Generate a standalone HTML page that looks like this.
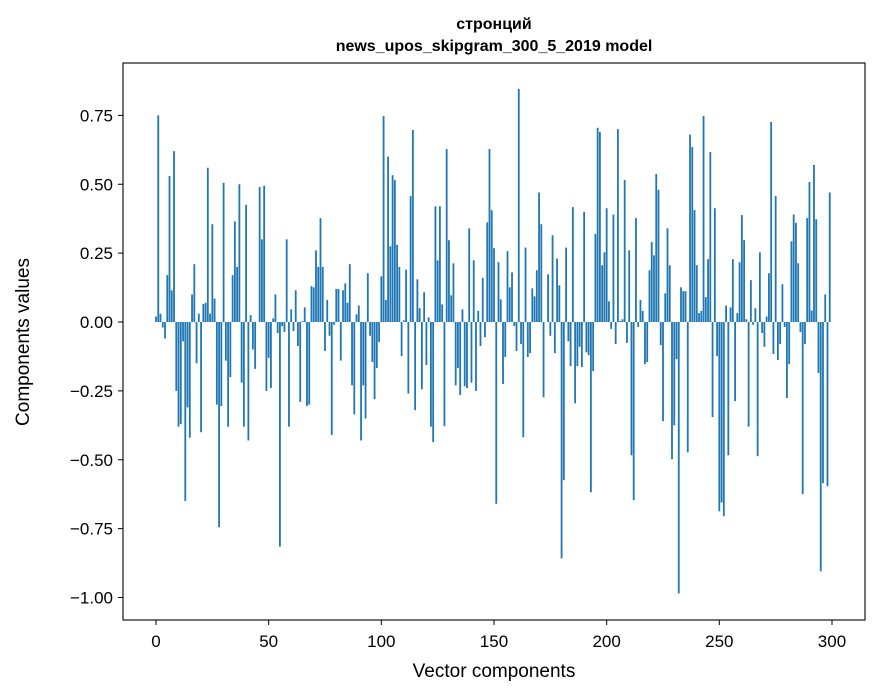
<!DOCTYPE html>
<html><head><meta charset="utf-8"><style>
body{margin:0;background:#fff}
svg{display:block;font-family:"Liberation Sans","DejaVu Sans",sans-serif}
</style></head><body>
<svg id="chart" width="880" height="696" viewBox="0 0 880 696" xmlns="http://www.w3.org/2000/svg">
<rect width="880" height="696" fill="#fff"/>
<text x="494" y="29" text-anchor="middle" font-size="16" font-weight="bold">стронций</text>
<text x="494" y="51" text-anchor="middle" font-size="16" font-weight="bold">news_upos_skipgram_300_5_2019 model</text>
<g id="bars"></g>
<g id="axes"></g>
<rect x="123" y="63" width="742" height="557" fill="none" stroke="#000" stroke-width="1.1"/>
<text x="494" y="677" text-anchor="middle" font-size="19">Vector components</text>
<text transform="translate(29,342) rotate(-90)" text-anchor="middle" font-size="19">Components values</text>
</svg>
<script>
const values = [0.02,0.75,0.03,-0.02,-0.06,0.17,0.53,0.115,0.62,-0.25,
-0.38,-0.37,-0.07,-0.65,-0.31,-0.42,0.10,0.21,-0.15,0.03,
-0.40,0.065,0.07,0.56,0.03,0.355,0.085,-0.30,-0.745,-0.305,
0.505,-0.14,-0.38,-0.2,0.17,0.365,0.2,0.50,-0.22,-0.38,
0.425,-0.43,0.025,-0.10,-0.17,0.0,0.49,0.30,0.495,-0.25,
-0.13,-0.24,0.013,0.10,-0.04,-0.815,-0.015,-0.036,0.30,-0.38,
0.046,-0.033,0.115,-0.087,-0.29,0.004,0.053,-0.305,-0.30,0.13,
0.126,0.26,0.20,0.377,0.20,-0.105,0.08,-0.05,-0.41,-0.01,
0.12,0.12,-0.14,0.115,0.14,0.07,0.21,-0.23,-0.335,0.028,
0.06,-0.43,-0.23,-0.35,0.177,-0.05,-0.145,-0.28,-0.167,-0.073,
0.166,0.748,0.08,0.60,0.275,0.533,0.515,0.28,0.20,-0.124,
0.006,0.19,-0.26,0.457,0.697,-0.32,0.155,0.05,-0.244,0.108,
-0.156,0.017,-0.38,-0.436,0.42,0.224,0.42,0.064,-0.378,0.628,
0.297,0.097,0.213,-0.23,-0.167,-0.265,0.046,-0.233,-0.24,0.34,
-0.22,0.224,-0.25,0.04,-0.087,0.16,-0.055,0.362,0.628,0.406,
0.268,-0.66,0.217,0.082,-0.225,-0.127,0.257,0.126,0.18,-0.015,
-0.105,0.846,-0.08,-0.418,0.27,-0.127,-0.113,0.122,0.093,0.188,
0.47,0.355,-0.273,0.0,0.173,-0.05,0.315,-0.113,0.23,0.133,
-0.858,-0.574,0.27,-0.07,-0.16,0.417,-0.295,-0.16,-0.09,-0.164,
0.40,-0.11,-0.12,-0.618,-0.178,0.32,0.705,0.69,0.206,0.253,
0.413,0.075,-0.025,0.39,-0.08,0.70,0.004,0.01,0.515,-0.076,
0.26,-0.484,-0.647,0.377,-0.018,0.08,0.04,-0.153,-0.145,0.188,
0.29,0.242,0.537,0.48,-0.084,-0.36,0.104,0.34,0.206,-0.498,
-0.375,-0.135,-0.985,0.126,0.112,0.112,-0.473,0.68,0.635,0.406,
0.206,0.032,0.04,0.748,0.09,0.228,0.617,-0.345,0.413,-0.124,
-0.687,-0.655,-0.705,0.06,-0.484,0.053,0.228,-0.287,0.032,0.217,
0.388,0.297,0.01,-0.38,0.152,-0.01,0.05,-0.487,0.253,-0.04,
-0.09,0.02,0.177,0.726,-0.116,0.457,-0.138,-0.08,0.137,-0.018,
-0.276,-0.153,0.293,0.39,0.36,0.213,-0.036,-0.625,-0.08,0.377,
0.508,0.042,0.57,0.373,-0.185,-0.905,-0.585,0.10,-0.596,0.47];
const xTicks = [0,50,100,150,200,250,300];
const yTicks = [0.75,0.5,0.25,0,-0.25,-0.5,-0.75,-1.0];
const yTickLabels = ["0.75","0.50","0.25","0.00","\u22120.25","\u22120.50","\u22120.75","\u22121.00"];

const NS="http://www.w3.org/2000/svg";
function xs(v){return 156+2.2533*v;}
function ys(v){return 322-275.5*v;}
const bars=document.getElementById('bars');
values.forEach((v,i)=>{
  const r=document.createElementNS(NS,'rect');
  
  
  const w=0.8*2.2533;
  r.setAttribute('x',xs(i)-w/2);
  r.setAttribute('width',w);
  r.setAttribute('y',Math.min(ys(v),ys(0)));
  r.setAttribute('height',Math.abs(ys(v)-ys(0)));
  r.setAttribute('fill','#1f77b4');
  bars.appendChild(r);
});
const axes=document.getElementById('axes');
xTicks.forEach(t=>{
  const l=document.createElementNS(NS,'line');
  
  
  l.setAttribute('x1',xs(t));l.setAttribute('x2',xs(t));
  l.setAttribute('y1',620);l.setAttribute('y2',625);
  l.setAttribute('stroke','#000');
  axes.appendChild(l);
  const tx=document.createElementNS(NS,'text');
  
  
  tx.setAttribute('x',xs(t));tx.setAttribute('y',647);
  tx.setAttribute('text-anchor','middle');tx.setAttribute('font-size','17');
  tx.textContent=String(t);
  axes.appendChild(tx);
});
yTicks.forEach((t,k)=>{
  const l=document.createElementNS(NS,'line');
  
  
  l.setAttribute('x1',118);l.setAttribute('x2',123);
  l.setAttribute('y1',ys(t));l.setAttribute('y2',ys(t));
  l.setAttribute('stroke','#000');
  axes.appendChild(l);
  const tx=document.createElementNS(NS,'text');
  
  
  tx.setAttribute('x',113);tx.setAttribute('y',ys(t)+6);
  tx.setAttribute('text-anchor','end');tx.setAttribute('font-size','17');
  tx.textContent=yTickLabels[k];
  axes.appendChild(tx);
});
</script>
</body></html>
